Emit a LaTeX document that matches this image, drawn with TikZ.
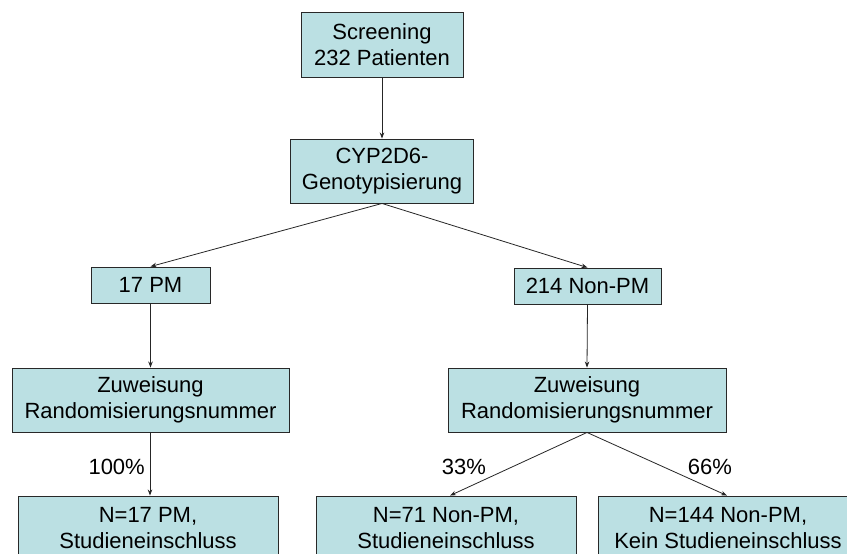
\documentclass[tikz,border=0pt]{standalone}
\usepackage{fontspec}
\setmainfont{Liberation Sans}
\usetikzlibrary{arrows.meta}
\definecolor{boxfill}{RGB}{187,224,227}
\definecolor{boxline}{RGB}{40,40,40}
\tikzset{
  flowbox/.style={draw=boxline, fill=boxfill, line width=0.9pt, rectangle, inner sep=0pt,
    align=center, font=\fontsize{22}{26}\selectfont},
  conn/.style={draw=black!85, line width=0.8pt, -{Stealth[length=6pt,width=4.5pt]}},
  pct/.style={font=\fontsize{22}{26}\selectfont, inner sep=0pt}
}
\begin{document}
\begin{tikzpicture}[x=1pt,y=-1pt]
\useasboundingbox (0,0) rectangle (847,554);
\fill[white] (0,0) rectangle (847,554);
\node[flowbox, minimum width=162pt, minimum height=65pt] (scr) at (382,44.5) {Screening\\232 Patienten};
\node[flowbox, minimum width=183pt, minimum height=64pt] (cyp) at (382,171) {CYP2D6-\\Genotypisierung};
\node[flowbox, minimum width=119pt, minimum height=36pt] (pm) at (150.5,285) {17 PM};
\node[flowbox, minimum width=147pt, minimum height=36pt] (npm) at (587.5,286) {214 Non-PM};
\node[flowbox, minimum width=277pt, minimum height=64pt] (zl) at (150.5,400) {Zuweisung\\Randomisierungsnummer};
\node[flowbox, minimum width=278pt, minimum height=64pt] (zr) at (587,400) {Zuweisung\\Randomisierungsnummer};
\node[flowbox, minimum width=260pt, minimum height=64pt] (bl) at (148,528) {N=17 PM,\\Studieneinschluss};
\node[flowbox, minimum width=260pt, minimum height=64pt] (bm) at (446,528) {N=71 Non-PM,\\Studieneinschluss};
\node[flowbox, minimum width=260pt, minimum height=64pt] (br) at (728,528) {N=144 Non-PM,\\Kein Studieneinschluss};

\draw[conn] (scr.south) -- (cyp.north);
\draw[conn] (cyp.south) -- (pm.north);
\draw[conn] (cyp.south) -- (npm.north);
\draw[conn] (pm.south) -- (zl.north);
\draw[conn] (npm.south) -- (zr.north);
\coordinate (blin) at ([xshift=2pt]bl.north);
\draw[conn] (blin |- zl.south) -- (blin);
\coordinate (bmin) at ([xshift=4pt]bm.north);
\draw[conn] (zr.south) -- (bmin);
\coordinate (brin) at ([xshift=-1pt]br.north);
\draw[conn] (zr.south) -- (brin);

\node[pct, anchor=east] (p100) at (145,467) {100\%};
\node[pct] (p33) at (464,467) {33\%};
\node[pct] (p66) at (710,467) {66\%};
\end{tikzpicture}
\end{document}
